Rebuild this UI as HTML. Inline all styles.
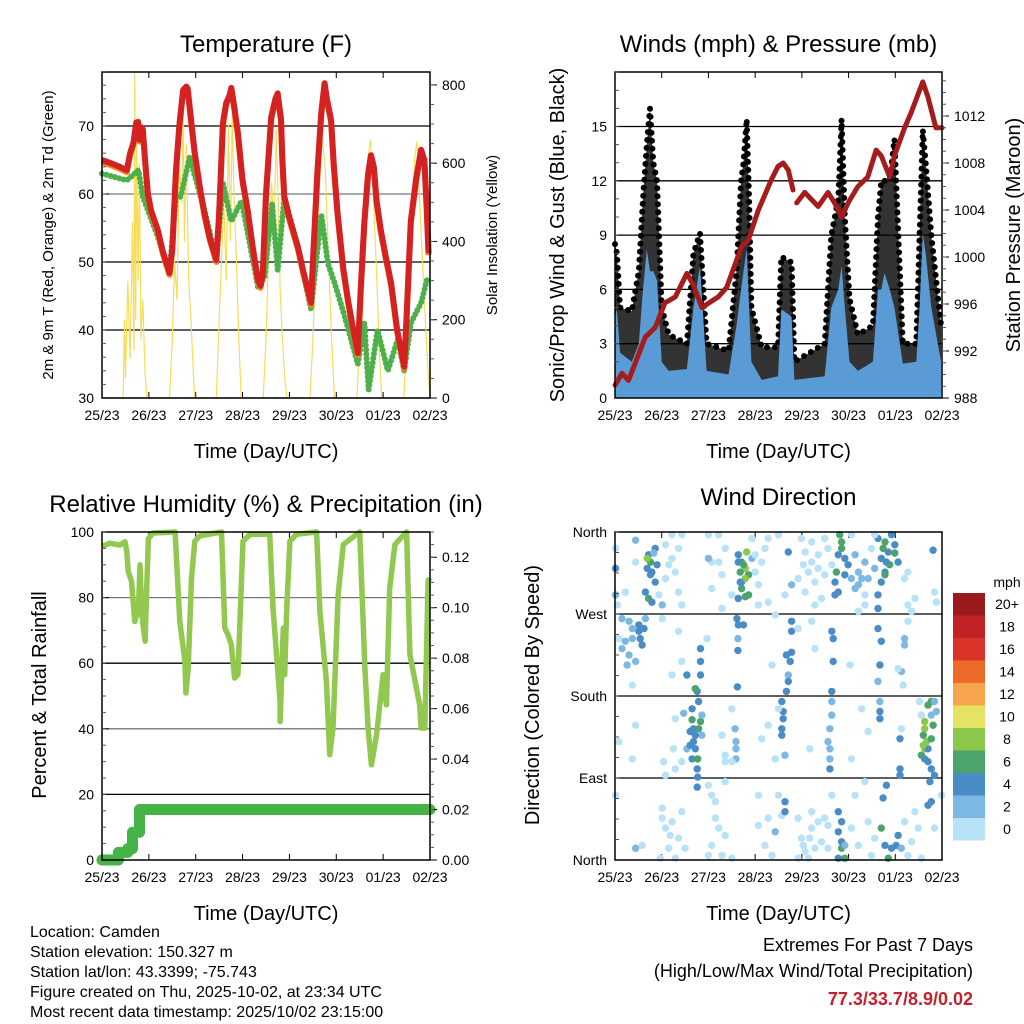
<!DOCTYPE html>
<html><head><meta charset="utf-8">
<style>
html,body{margin:0;padding:0;background:#fff;}
svg{display:block;font-family:"Liberation Sans Narrow","Liberation Sans",sans-serif;}
</style></head>
<body>
<svg id="fig" width="1024" height="1024" viewBox="0 0 1024 1024" xmlns="http://www.w3.org/2000/svg">
<rect width="1024" height="1024" fill="#fff"/>
<g id="g1"></g>
<g id="g2"></g>
<g id="g3"></g>
<g id="g4"></g>
<g font-size="16" fill="#000">
<text x="30" y="937">Location: Camden</text>
<text x="30" y="957">Station elevation: 150.327 m</text>
<text x="30" y="977">Station lat/lon: 43.3399; -75.743</text>
<text x="30" y="997">Figure created on Thu, 2025-10-02, at 23:34 UTC</text>
<text x="30" y="1017">Most recent data timestamp: 2025/10/02 23:15:00</text>
</g>
<g text-anchor="end" font-size="18">
<text x="973" y="951">Extremes For Past 7 Days</text>
<text x="973" y="977">(High/Low/Max Wind/Total Precipitation)</text>
<text x="973" y="1005" fill="#c8202a" font-weight="bold">77.3/33.7/8.9/0.02</text>
</g>
</svg>
<script>
// ---------- data ----------
const dayLabels = ["25/23","26/23","27/23","28/23","29/23","30/23","01/23","02/23"];
const tempTime = [0,0.2,0.38,0.53,0.6,0.67,0.73,0.77,0.8,0.84,0.87,0.92,0.98,1.05,1.19,1.3,1.44,1.5,1.58,1.65,1.73,1.8,1.83,1.9,1.98,2.1,2.19,2.3,2.44,2.5,2.58,2.65,2.72,2.76,2.82,2.9,3.0,3.11,3.22,3.33,3.38,3.43,3.5,3.61,3.7,3.75,3.8,3.82,3.85,3.89,4.0,4.18,4.3,4.46,4.5,4.6,4.68,4.75,4.8,4.89,4.95,5.03,5.15,5.25,5.35,5.46,5.52,5.6,5.68,5.74,5.8,5.86,5.95,6.05,6.17,6.3,6.45,6.5,6.59,6.7,6.81,6.88,6.93,6.97];
const tempVal = [65,64.5,64,63.5,66,67.5,70.5,70.6,68,69.8,69.5,65,60,57.5,54.7,51.5,48.4,52,63.5,70,75.3,75.8,75.5,71,66,60.5,57,53.5,50.3,57,70.4,73.4,74.5,75.6,73,69,62,57.6,52,47.3,46.5,48,60,71.3,74,74.8,72,71,65,59.6,56.5,52.2,48.5,44,50,63.5,72,76.3,74,70.9,64,57,49,44.4,40.5,36.6,46,56,63,65.7,64,59,54.7,51,46.9,40,34.6,42,56,62,66.5,65,58,51.3];
const dewTime = [0,0.53,0.78,0.87,0.98,1.19,1.44,1.58,1.68,1.87,2.19,2.44,2.58,2.76,2.98,3.33,3.47,3.63,3.75,3.89,4.18,4.46,4.68,4.82,4.96,5.18,5.46,5.6,5.69,5.88,6.1,6.31,6.45,6.59,6.81,6.95];
const dewVal = [63,62,63.5,59.6,57.6,53.7,48.4,59.6,59.6,65.4,57.6,50.3,61.6,56,59,46.3,47.8,58.6,48.8,59.6,52.2,43,57,49.8,47,42,35,41,31.2,40,34,38.6,34,41,44,47.8];
const solarTime = [0.45,0.48,0.5,0.55,0.6,0.65,0.68,0.7,0.72,0.74,0.77,0.8,0.83,0.87,0.92,0.96,1.44,1.5,1.55,1.6,1.65,1.7,1.73,1.76,1.8,1.85,1.9,1.95,1.98,2.44,2.5,2.55,2.6,2.65,2.7,2.74,2.78,2.82,2.87,2.92,2.97,3.44,3.5,3.55,3.62,3.67,3.72,3.76,3.8,3.85,3.9,3.95,4.44,4.5,4.58,4.65,4.7,4.76,4.82,4.9,4.96,5.44,5.52,5.6,5.68,5.73,5.78,5.85,5.92,5.97,6.44,6.52,6.6,6.68,6.72,6.78,6.86,6.95,7.0];
const solarVal = [0,200,50,300,100,450,120,830,200,650,300,600,150,250,60,0,0,150,350,250,600,500,730,400,650,300,200,60,0,0,200,350,500,300,700,400,725,500,350,150,0,0,150,350,550,420,685,500,280,150,50,0,0,150,400,560,660,600,400,150,0,0,200,420,620,660,550,350,120,0,0,200,450,620,655,500,300,80,0];
const windTime = [0,0.04,0.11,0.36,0.51,0.6,0.68,0.75,0.82,0.9,1.0,1.15,1.54,1.68,1.82,1.96,2.43,2.6,2.7,2.75,2.82,2.87,2.92,3.14,3.49,3.56,3.78,3.84,4.49,4.63,4.78,4.85,4.92,5.02,5.2,5.52,5.63,5.7,5.77,5.88,5.98,6.16,6.45,6.52,6.59,6.65,6.77,6.98];
const windSpeed = [4.5,4.9,2.5,2,3,6,8.2,7,7,6.5,2,1.5,1.6,5,7.3,1.5,1.3,4,6,7,8.2,5,2,1,1.2,4.9,4.5,1,1.2,5,6,7.3,5,2,1.5,2,6,6,6.9,6,5,1.9,2,5,9.1,8,5,2];
const gustHigh = [8.5,8,5,4.8,7,11,14,16,13,12,5,3.5,3,8,9.1,3,2.6,7,12,13,15.4,11,5,2.8,2.8,7.8,7.5,2,3,9,11,15.4,10,5.5,3.5,4,10,12,12,12,14.3,3,3,9,14.8,13,9,4];
const gustLow = [1,1,0.8,0.8,1,1.5,2,3,2.5,2.5,1,0.8,0.8,1.5,2,0.5,0.5,1,2,2,3,2,1,0.5,0.5,1.5,1.5,0.3,0.5,1.5,2,2,1.5,0.8,0.5,0.5,1.5,2,2,2,1.5,0.5,0.5,1.5,3,2.5,1.5,0.3];
const presTime = [0,0.15,0.29,0.65,0.86,1.07,1.29,1.54,1.68,1.86,2.21,2.39,2.71,2.85,3.07,3.35,3.49,3.6,3.71,3.81];
const presVal = [989.1,990.1,989.5,993.2,994,996.1,996.6,998.6,997.6,995.7,996.6,997.4,1000.9,1001.4,1004,1006.6,1007.7,1008,1007.4,1005.7];
const presTime2 = [3.89,4.06,4.35,4.56,4.7,4.85,4.99,5.2,5.41,5.59,5.7,5.88,5.98,6.2,6.34,6.59,6.7,6.87,7.0];
const presVal2 = [1004.6,1005.5,1004.3,1005.5,1004.6,1003.4,1004.6,1006,1006.8,1009.1,1008.6,1006.8,1008.6,1011,1012.3,1014.9,1013.6,1011,1011];
const rhTime = [0,0.17,0.38,0.49,0.53,0.56,0.63,0.7,0.78,0.81,0.85,0.92,0.95,0.99,1.09,1.56,1.66,1.77,1.79,1.84,1.91,1.98,2.09,2.55,2.62,2.69,2.76,2.83,2.9,2.98,3.01,3.16,3.58,3.65,3.8,3.8,3.87,3.9,3.94,4.01,4.15,4.58,4.65,4.79,4.86,4.93,5.04,5.15,5.5,5.61,5.68,5.75,5.86,6.0,6.07,6.14,6.25,6.5,6.57,6.78,6.81,6.89,6.96,6.99];
const rhVal = [95.6,96.6,96,97,94,88,85,72.7,76.8,90,74.8,66.7,81,98,99.7,100,72.7,60.6,50.9,58.5,86,97.2,98.8,100,70.7,68.7,65.6,55.5,56.5,86,97.2,99.3,99.3,76.8,48.3,42.2,70.7,56.5,75.8,97.2,99.3,100,75.8,54.5,32.1,40.2,81,96.2,100,58.5,40.2,29,38.2,56.5,47.3,82.9,96.2,100,62.6,47.3,40.2,40.2,85,86];
const precTime = [0,0.35,0.35,0.55,0.55,0.65,0.65,0.8,0.8,7];
const precVal = [0,0,0.003,0.003,0.0045,0.0045,0.011,0.011,0.02,0.02];
const dirObs = [[0.01,342,0],[0.01,320,4],[0.01,291,2],[0.05,280,0],[0.22,294,0],[0.44,351,2],[0.44,327,0],
[0.15,265,2],[0.3,262,2],[0.51,258,4],[0.62,254,4],[0.37,243,2],[0.15,232,2],[0.3,225,2],[0.44,218,2],[0.58,236,4],[0.51,251,4],[0.08,243,0],[0.26,214,2],[0.65,265,2],[0.22,240,2],[0.54,243,4],[0.37,254,2],
[0.72,335,4],[0.76,327,6],[0.79,316,4],[0.86,342,4],[0.86,305,4],[0.65,294,4],[0.72,287,6],[0.79,283,4],[0.69,331,8],[0.9,324,4],[0.83,337,2],[0.76,313,4],[0.69,320,4],
[0.94,291,0],[1.08,346,0],[1.22,331,0],[1.29,316,0],[1.08,309,0],[1.36,294,0],[1.43,280,0],[1.22,357,0],[1.43,357,0],[1.36,342,0],[1.15,324,0],
[1.01,57,0],[1.08,35,0],[1.15,13,0],[1.22,42,0],[1.36,24,0],[1.29,2,0],[0.97,2,0],[1.43,53,0],[1.5,13,0],[0.44,13,2],[0.58,16,0],[1.08,93,0],[1.04,108,0],[1.29,155,0],[1.22,203,0],[1.43,218,0],[1.36,251,0],[0.37,192,0],[0.44,148,0],[0.37,111,0],[0.08,130,0],[1.01,280,2],[1.01,265,0],[0.01,71,0],[1.01,46,0],[1.18,27,0],
[1.83,232,4],[1.83,218,4],[1.83,203,4],[1.54,203,4],[1.76,185,4],[1.72,188,6],[1.79,174,4],[1.65,166,4],[1.65,154,6],[1.83,152,6],[1.79,144,6],[1.61,141,4],[1.68,130,4],[1.72,122,4],[1.65,111,4],[1.77,111,6],[1.76,100,4],[1.77,91,4],[1.76,80,4],[1.86,159,2],[1.86,137,2],[1.47,161,2],[1.54,122,2],[1.43,108,0],[1.29,100,0],[1.25,122,0],[1.68,144,4],[1.61,126,4],[1.72,137,4],
[2.0,82,0],[2.07,71,0],[2.15,46,0],[2.22,35,0],[2.07,16,0],[2.29,5,0],[2.36,27,0],[2.0,5,0],[2.5,2,0],[2.36,86,0],[2.07,327,0],[2.22,327,0],[2.29,313,0],[2.07,298,0],[2.0,331,2],[2.22,357,0],[2.0,357,0],[2.36,342,0],[2.29,276,0],[2.5,291,0],[2.15,64,0],[1.97,243,0],
[2.64,335,4],[2.71,327,6],[2.79,320,8],[2.82,338,8],[2.68,316,6],[2.86,313,6],[2.71,305,4],[2.79,309,8],[2.71,298,6],[2.79,289,6],[2.64,287,4],[2.86,291,6],[2.64,327,4],[2.93,331,2],[2.75,324,6],[2.68,305,4],[3.0,316,0],[3.07,302,0],[3.14,327,0],[3.21,342,0],[2.93,353,0],[3.28,353,0],[3.07,280,0],[3.0,335,0],
[2.61,265,4],[2.64,258,4],[2.75,258,4],[2.63,243,2],[2.63,230,4],[2.62,190,4],[2.57,144,2],[2.59,130,2],[2.59,122,2],[2.59,111,2],[2.5,108,0],[2.36,108,0],[2.29,137,0],[2.5,166,0],[2.36,115,0],
[3.57,174,4],[3.6,163,4],[3.6,155,4],[3.57,144,4],[3.57,137,4],[3.64,115,2],[3.67,225,4],[3.75,218,4],[3.71,203,2],[3.71,196,4],[3.67,185,4],[3.78,228,4],[3.78,262,4],[3.78,251,4],[3.43,269,0],[3.36,214,0],[3.28,148,0],[3.14,133,0],[3.43,111,0],[3.5,71,0],[3.57,49,0],[3.28,46,0],[3.21,16,0],[3.43,31,2],[3.36,5,0],[3.07,71,0],[3.07,38,0],[3.64,64,4],[3.64,53,4],[3.5,357,0],[3.71,338,4],[3.78,302,2],[3.64,291,0],[3.28,283,0],[3.5,166,0],
[3.99,353,0],[4.07,338,0],[4.21,327,0],[4.14,316,0],[4.35,335,0],[4.49,353,0],[4.28,305,0],[4.42,287,0],[4.07,294,0],[3.92,309,0],[4.49,313,0],[4.56,342,0],[4.64,324,0],[4.28,280,0],[4.21,349,0],[4.35,320,0],[4.03,324,0],
[3.92,46,0],[3.99,24,0],[4.07,9,0],[4.21,35,0],[4.28,13,0],[4.14,2,0],[4.35,42,0],[3.92,2,0],[4.42,20,0],[4.21,53,0],[4.49,46,0],[4.56,13,0],[4.03,16,0],[4.17,24,0],
[4.64,251,4],[4.67,243,4],[4.67,218,4],[4.64,185,4],[4.64,174,2],[4.64,159,2],[4.6,144,2],[4.56,130,2],[4.6,122,2],[4.6,111,2],[4.6,100,4],[4.28,232,0],[4.17,122,0],[3.92,254,0],[4.21,262,0],
[4.81,357,6],[4.85,349,6],[4.85,342,6],[4.78,335,4],[4.92,331,4],[4.99,324,4],[4.92,313,4],[4.74,316,6],[4.71,305,4],[4.71,291,4],[4.78,294,4],[5.06,309,2],[5.21,316,2],[5.14,335,2],[5.35,327,2],[5.21,302,2],[5.35,291,0],[5.49,342,0],[5.06,357,0],[5.28,309,2],[5.14,298,2],
[4.78,31,4],[4.85,20,4],[4.85,13,6],[4.78,53,4],[4.85,42,4],[4.78,2,4],[4.92,16,2],[4.92,2,6],[5.06,35,0],[5.21,16,0],[5.42,42,0],[5.14,71,0],[5.35,86,0],[4.64,71,0],[4.56,38,0],
[5.03,214,0],[5.28,166,0],[5.06,111,0],[5.42,141,0],[5.21,273,0],
[5.63,353,4],[5.78,349,6],[5.85,338,4],[5.74,342,6],[5.99,337,6],[5.92,357,4],[5.7,331,4],[5.78,316,4],[5.88,324,6],[5.78,313,6],[5.63,291,4],[5.7,305,4],[5.63,276,4],[5.63,254,4],[5.99,346,4],[6.06,327,4],[5.56,320,2],[5.42,309,2],[5.35,280,0],[5.56,357,0],[5.81,327,4],
[5.67,214,4],[5.67,174,2],[5.67,163,4],[5.67,155,4],[5.7,240,4],[5.63,196,2],
[6.1,133,4],[6.1,100,4],[6.1,93,4],[6.13,144,0],[6.13,207,2],[6.17,192,0],[6.2,243,2],[6.2,236,2],[6.27,262,0],[6.2,309,0],[6.27,280,0],[6.35,273,0],[6.42,287,0],[6.27,316,0],[6.06,210,0],
[5.7,35,6],[5.81,82,4],[5.74,68,4],[6.06,27,4],[6.02,16,4],[5.85,2,6],[5.78,16,4],[5.92,13,4],[6.13,13,2],[6.27,5,0],[6.35,20,0],[6.56,2,0],[5.56,24,0],[5.49,5,0],[6.2,42,0],
[6.63,152,8],[6.63,144,8],[6.6,137,6],[6.67,130,8],[6.63,122,8],[6.56,115,6],[6.77,174,6],[6.7,170,6],[6.81,148,6],[6.77,133,6],[6.7,108,4],[6.77,100,4],[6.84,93,4],[6.74,86,4],[6.63,111,4],[6.88,163,2],[6.84,174,2],[6.77,159,2],[6.7,60,4],[6.77,64,4],[6.84,35,0],[6.88,283,0],[6.81,340,4],[6.84,294,0],[6.99,71,0],[6.42,53,0],[6.49,35,0],[6.7,122,4],[6.6,126,8],[6.56,159,0],[6.52,174,0]];
const cbLabels = ["20+","18","16","14","12","10","8","6","4","2","0"];
const cbColors = ["#9a1a1e","#c02226","#dc3328","#ee6a2a","#f6a54c","#e6e264","#8cc84b","#4ba46b","#4a8cc6","#7db8e5","#b8e2f8"];
const spdColor = {0:"#b8e2f8",2:"#7db8e5",4:"#4a8cc6",6:"#4ba46b",8:"#8cc84b"};

// ---------- helpers ----------
const NS="http://www.w3.org/2000/svg";
function mk(parent,tag,attrs,text){const e=document.createElementNS(NS,tag);for(const k in attrs)e.setAttribute(k,attrs[k]);if(text!==undefined)e.textContent=text;parent.appendChild(e);return e;}
function pts(ts,vs,fx,fy){return ts.map((t,i)=>fx(t).toFixed(1)+","+fy(vs[i]).toFixed(1)).join(" ");}

function frame(g,L,R,T,B,title,titleY){
  const xs=t=>L+t/7*(R-L);
  const t1=mk(g,"text",{x:(L+R)/2,y:titleY,"text-anchor":"middle","font-size":"24"},title);
  
  
  dayLabels.forEach((lab,i)=>{
    const x=xs(i);
    const tk=mk(g,"line",{x1:x,x2:x,y1:B,y2:B-6,stroke:"#000","stroke-width":1});
    
    
    mk(g,"line",{x1:x,x2:x,y1:T,y2:T+6,stroke:"#000","stroke-width":1});
    const tl=mk(g,"text",{x:x,y:B+22,"text-anchor":"middle","font-size":"14"},lab);
    
    
  });
  const xl=mk(g,"text",{x:(L+R)/2,y:B+60,"text-anchor":"middle","font-size":"20"},"Time (Day/UTC)");
  
  
  return xs;
}
function grid(g,L,R,y,gray){const l=mk(g,"line",{x1:L,x2:R,y1:y,y2:y,stroke:gray?"#777":"#000","stroke-width":1.3});
  
  }
function yTicks(g,L,R,vals,fy,labels,side,minor,fs){
  vals.forEach((v,i)=>{const y=fy(v);
    if(side==="left"){mk(g,"line",{x1:L,x2:L+7,y1:y,y2:y,stroke:"#000"});
      const t=mk(g,"text",{x:L-8,y:y+5,"text-anchor":"end","font-size":fs||14},labels[i]);
      
      }
    else{mk(g,"line",{x1:R,x2:R+7,y1:y,y2:y,stroke:"#000"});
      const t=mk(g,"text",{x:R+12,y:y+5,"text-anchor":"start","font-size":fs||14},labels[i]);
      
      }
  });
  (minor||[]).forEach(v=>{const y=fy(v);
    if(side==="left")mk(g,"line",{x1:L,x2:L+4,y1:y,y2:y,stroke:"#555"});
    else mk(g,"line",{x1:R,x2:R+4,y1:y,y2:y,stroke:"#555"});});
}
function vlabel(g,x,y,txt,fs,name){const t=mk(g,"text",{x:x,y:y,"text-anchor":"middle","font-size":fs,transform:`rotate(-90 ${x} ${y})`},txt);
  
  }
function box(g,L,R,T,B){const r=mk(g,"rect",{x:L,y:T,width:R-L,height:B-T,fill:"none",stroke:"#000","stroke-width":1.5});
  
  }
function range(a,b,s){const o=[];for(let v=a;v<=b+1e-9;v+=s)o.push(+v.toFixed(4));return o;}

// ---------- panel 1 temperature ----------
(function(){
  const g=document.getElementById("g1");const L=102,R=430,T=72,B=398;
  const yT=v=>B-(v-30)*6.8, yS=s=>B-s*(326/833);
  const xs=frame(g,L,R,T,B,"Temperature (F)",52);
  [30,40,50,60,70].forEach(v=>grid(g,L,R,yT(v),v===60||v===30));
  const sol=mk(g,"polyline",{points:pts(solarTime,solarVal,xs,yS),fill:"none",stroke:"#f7dc5a","stroke-width":1.2});
  
  
  const dew=mk(g,"polyline",{points:pts(dewTime,dewVal,xs,yT),fill:"none",stroke:"#4db04a","stroke-width":6,"stroke-dasharray":"0 4.5","stroke-linecap":"round","stroke-linejoin":"round"});
  
  
  const or=mk(g,"polyline",{points:pts(tempTime,tempVal,xs,v=>yT(v)+2),fill:"none",stroke:"#f08a24","stroke-width":6,"stroke-linejoin":"round"});
  
  
  const rd=mk(g,"polyline",{points:pts(tempTime,tempVal,xs,yT),fill:"none",stroke:"#d42222","stroke-width":6,"stroke-linejoin":"round"});
  
  
  box(g,L,R,T,B);
  yTicks(g,L,R,[30,40,50,60,70],yT,["30","40","50","60","70"],"left",range(32,78,2));
  yTicks(g,L,R,[0,200,400,600,800],yS,["0","200","400","600","800"],"right",range(50,800,50));
  vlabel(g,53,235,"2m & 9m T (Red, Orange) & 2m Td (Green)",15,"y-axis-title");
  vlabel(g,497,235,"Solar Insolation (Yellow)",15,"y2-axis-title");
})();

// ---------- panel 2 winds ----------
(function(){
  const g=document.getElementById("g2");const L=615,R=942,T=72,B=398;
  const yW=v=>B-v*18.1, yP=p=>B-(p-988)*11.75;
  const xs=frame(g,L,R,T,B,"Winds (mph) & Pressure (mb)",52);
  [3,6,9,12,15].forEach(v=>grid(g,L,R,yW(v),false));
  const gp=windTime.map((t,i)=>xs(t).toFixed(1)+","+yW(gustHigh[i]).toFixed(1)).concat(windTime.map((t,i)=>xs(t).toFixed(1)+","+yW(gustLow[i]).toFixed(1)).reverse()).join(" ");
  const ga=mk(g,"polygon",{points:gp,fill:"#000","fill-opacity":0.8});
  
  
  const gd=mk(g,"polyline",{points:pts(windTime,gustHigh,xs,yW),fill:"none",stroke:"#000","stroke-width":6,"stroke-dasharray":"0 8","stroke-linecap":"round"});
  
  
  const wp=windTime.map((t,i)=>xs(t).toFixed(1)+","+yW(windSpeed[i]).toFixed(1)).join(" ")+` ${xs(windTime[windTime.length-1])},${B} ${xs(windTime[0])},${B}`;
  const wa=mk(g,"polygon",{points:wp,fill:"#5a9bd5"});
  
  
  const p1=mk(g,"polyline",{points:pts(presTime,presVal,xs,yP),fill:"none",stroke:"#a51c1c","stroke-width":5,"stroke-linejoin":"round","stroke-linecap":"round"});
  
  
  const p2=mk(g,"polyline",{points:pts(presTime2,presVal2,xs,yP),fill:"none",stroke:"#a51c1c","stroke-width":5,"stroke-linejoin":"round","stroke-linecap":"round"});
  
  
  box(g,L,R,T,B);
  yTicks(g,L,R,[0,3,6,9,12,15],yW,["0","3","6","9","12","15"],"left",range(1,18,1));
  yTicks(g,L,R,[988,992,996,1000,1004,1008,1012],yP,["988","992","996","1000","1004","1008","1012"],"right",range(989,1015,1));
  vlabel(g,564,235,"Sonic/Prop Wind & Gust (Blue, Black)",20,"y-axis-title");
  vlabel(g,1020,235,"Station Pressure (Maroon)",20,"y2-axis-title");
})();

// ---------- panel 3 humidity ----------
(function(){
  const g=document.getElementById("g3");const L=102,R=430,T=532,B=860;
  const yR=v=>B-v*3.28, yPr=p=>B-p/0.13*328;
  const xs=frame(g,L,R,T,B,"Relative Humidity (%) & Precipitation (in)",512);
  [20,40,60,80].forEach(v=>grid(g,L,R,yR(v),v===40||v===80));
  const rh=mk(g,"polyline",{points:pts(rhTime,rhVal,xs,yR),fill:"none",stroke:"#92c850","stroke-width":5.5,"stroke-linejoin":"round"});
  
  
  const pr=mk(g,"polyline",{points:pts(precTime,precVal,xs,yPr),fill:"none",stroke:"#46b346","stroke-width":11,"stroke-linejoin":"round","stroke-linecap":"round"});
  
  
  box(g,L,R,T,B);
  yTicks(g,L,R,[0,20,40,60,80,100],yR,["0","20","40","60","80","100"],"left",range(5,100,5));
  yTicks(g,L,R,[0,0.02,0.04,0.06,0.08,0.1,0.12],yPr,["0.00","0.02","0.04","0.06","0.08","0.10","0.12"],"right",range(0.005,0.13,0.005));
  vlabel(g,46,695,"Percent & Total Rainfall",20,"y-axis-title");
})();

// ---------- panel 4 wind direction ----------
(function(){
  const g=document.getElementById("g4");const L=615,R=942,T=532,B=860;
  const yD=d=>B-d*328/360;
  const xs=frame(g,L,R,T,B,"Wind Direction",505);
  [90,180,270].forEach(v=>grid(g,L,R,yD(v),false));
  dirObs.forEach(o=>{
    const c=mk(g,"circle",{cx:xs(o[0]).toFixed(1),cy:yD(o[1]).toFixed(1),r:3.7,fill:spdColor[o[2]]});
    
    
  });
  box(g,L,R,T,B);
  yTicks(g,L,R,[0,90,180,270,360],yD,["North","East","South","West","North"],"left",range(22.5,360,22.5));
  vlabel(g,539,695,"Direction (Colored By Speed)",20,"y-axis-title");
  const cb=mk(g,"g",{});
  
  
  const u=mk(cb,"text",{x:1007,y:587,"text-anchor":"middle","font-size":"14"},"mph");
  
  
  cbLabels.forEach((lab,i)=>{
    const y=593+i*22.5;
    const r=mk(cb,"rect",{x:953,y:y,width:32,height:22.5,fill:cbColors[i]});
    
    
    const t=mk(cb,"text",{x:1007,y:y+16,"text-anchor":"middle","font-size":"14"},lab);
    
    
  });
})();
</script>
</body></html>
